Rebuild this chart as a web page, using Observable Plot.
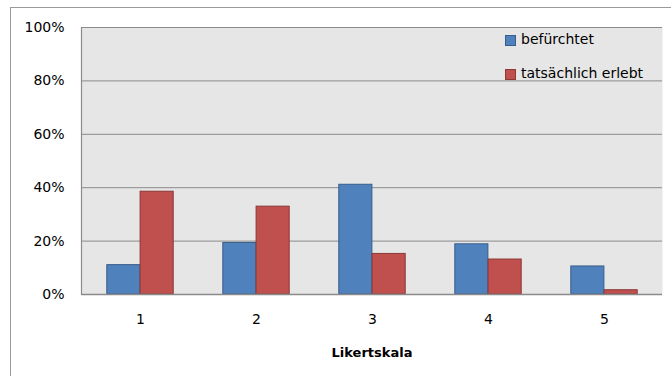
<!DOCTYPE html>
<html>
<head>
<meta charset="utf-8">
<script src="https://cdn.jsdelivr.net/npm/d3@7"></script>
<script src="https://cdn.jsdelivr.net/npm/@observablehq/plot@0.6"></script>
<style>
  html, body { margin: 0; padding: 0; background: #fff; }
  #wrap { position: relative; width: 671px; height: 376px; overflow: hidden; font-family: "DejaVu Sans", sans-serif; }
  #border { position: absolute; left: 10px; top: 7px; width: 700px; height: 400px; border-left: 1.5px solid #9a9a9a; border-top: 1.5px solid #9a9a9a; }
  #chart { position: absolute; left: 0; top: 0; }
  #legend { position: absolute; left: 505px; top: 33px; font-size: 14px; color: #000; }
  .row { display: flex; align-items: flex-end; height: 13px; margin-bottom: 21px; white-space: nowrap; }
  .sw { width: 11px; height: 11px; margin-right: 5px; box-sizing: border-box; }
  .lbl { line-height: 13px; }
</style>
</head>
<body>
<div id="wrap">
  <div id="border"></div>
  <div id="chart"></div>
  <div id="legend"></div>
</div>
<script>
const categories = ["1", "2", "3", "4", "5"];
const befuerchtet = [11, 19.3, 41.1, 18.8, 10.5];
const erlebt = [38.5, 32.9, 15.2, 13.1, 1.6];
const seriesNames = ["befürchtet", "tatsächlich erlebt"];
const seriesFill = ["#4F81BD", "#C0504D"];
const seriesStroke = ["#385D8A", "#8C3836"];
const yTicks = [0, 20, 40, 60, 80, 100];
const xLabel = "Likertskala";

const dataA = categories.map((c, i) => ({cat: c, value: befuerchtet[i]}));
const dataB = categories.map((c, i) => ({cat: c, value: erlebt[i]}));

const W = 671, H = 376, mL = 81, mR = 9, mT = 27, mB = 82;
const pw = W - mL - mR, ph = H - mT - mB;
const outer = 24.8, inner = 58.1;

const chart = Plot.plot({
  width: W,
  height: H,
  marginLeft: mL,
  marginRight: mR,
  marginTop: mT,
  marginBottom: mB,
  style: {fontFamily: "DejaVu Sans, sans-serif", fontSize: "14px", color: "#000", background: "transparent"},
  x: {domain: categories, padding: 0, label: null},
  y: {domain: [0, 100], label: null},
  marks: [
    Plot.frame({fill: "#e6e6e6", stroke: null}),
    Plot.gridY(yTicks, {stroke: "#8a8a8a", strokeOpacity: 1, strokeWidth: 1}),
    // left edge of the plot area only
    Plot.frame({stroke: "#8a8a8a", strokeWidth: 1.2, strokeDasharray: `0 ${2 * pw + ph} ${ph} 0`}),
    Plot.barY(dataA, {x: "cat", y: "value", fill: seriesFill[0], stroke: seriesStroke[0], strokeWidth: 1, insetLeft: outer, insetRight: inner}),
    Plot.barY(dataB, {x: "cat", y: "value", fill: seriesFill[1], stroke: seriesStroke[1], strokeWidth: 1, insetLeft: inner, insetRight: outer}),
    Plot.ruleY([0], {stroke: "#8a8a8a", strokeWidth: 1.5}),
    Plot.axisY({ticks: yTicks, tickSize: 0, tickPadding: 17, tickFormat: d => d + "%", label: null, fontSize: 14}),
    Plot.axisX({tickSize: 0, tickPadding: 20, label: null, fontSize: 14}),
    Plot.axisX({tickSize: 0, ticks: [], label: xLabel, labelAnchor: "center", labelOffset: 62, fontSize: 13, fontWeight: "bold"})
  ]
});
document.getElementById("chart").appendChild(chart);

const legend = document.getElementById("legend");
seriesNames.forEach((name, i) => {
  const row = document.createElement("div");
  row.className = "row";
  const sw = document.createElement("div");
  sw.className = "sw";
  sw.style.background = seriesFill[i];
  sw.style.border = "1px solid " + seriesStroke[i];
  const lbl = document.createElement("span");
  lbl.className = "lbl";
  lbl.textContent = name;
  row.appendChild(sw);
  row.appendChild(lbl);
  legend.appendChild(row);
});
</script>
</body>
</html>
